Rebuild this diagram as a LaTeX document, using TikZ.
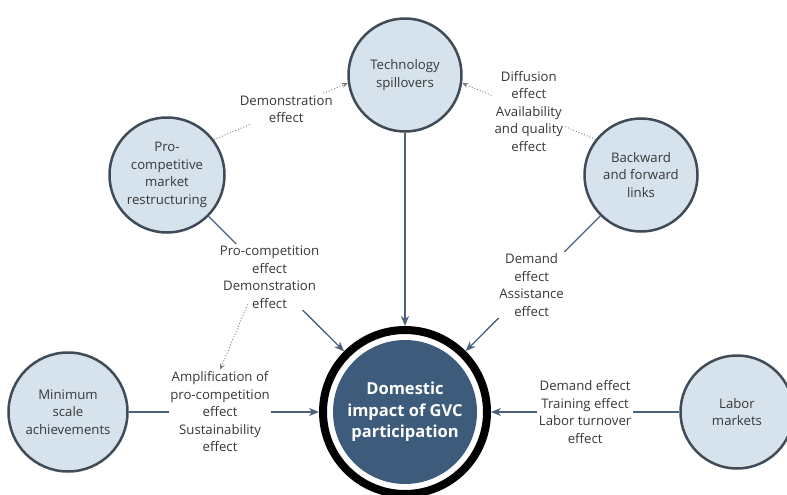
\documentclass[tikz,border=0pt]{standalone}
\usepackage{fontspec}
\setmainfont{Open Sans}
\usetikzlibrary{shapes,arrows,arrows.meta,positioning}
\definecolor{circfill}{HTML}{D6E2EC}
\definecolor{circline}{HTML}{3F4B57}
\definecolor{mainblue}{HTML}{3D5B7B}
\definecolor{arrowcol}{HTML}{4D6279}
\definecolor{dotcol}{HTML}{7A7A7A}
\definecolor{txtcol}{HTML}{383838}

\begin{document}
\begin{tikzpicture}[
    x=1pt, y=-1pt,
    font=\fontsize{13.2}{17.5}\selectfont,
    factor/.style={circle, draw=circline, line width=2.5pt, fill=circfill, align=center, text=txtcol, inner sep=0pt},
    impact/.style={circle, fill=mainblue, text=white, align=center, minimum size=144pt, outer sep=14pt, font=\fontsize{16.5}{21.7}\selectfont\bfseries},
    effect/.style={fill=white, align=center, text=txtcol, inner sep=1.5pt},
    arrow/.style={line width=1.3pt, draw=arrowcol, -{Stealth[length=10pt,width=8pt,inset=3pt]}},
    dotarrow/.style={line width=0.9pt, draw=dotcol, dotted, -{Stealth[length=6pt,width=5pt]}}
]
\useasboundingbox (0,0) rectangle (787,495);

% Central node
\node[impact] (impact) at (405,412) {Domestic\\impact of GVC\\participation};
\draw[line width=8pt] (impact.center) circle[radius=82pt];

% Channels
\node[factor, minimum size=113pt] (tech) at (405,75) {Technology\\spillovers};
\node[factor, minimum size=115pt] (procomp) at (167,175) {Pro-\\competitive\\market\\restructuring};
\node[factor, minimum size=113pt] (links) at (641,175) {Backward\\and forward\\links};
\node[factor, minimum size=119pt] (minscale) at (68,412) {Minimum\\scale\\achievements};
\node[factor, minimum size=113pt] (labor) at (737,412) {Labor\\markets};

% Direct effects
\draw[arrow] (tech) -- (impact);
\draw[arrow] (procomp) -- node[effect, pos=0.45] (pcEffect) {Pro-competition\\effect\\Demonstration\\effect} (impact);
\draw[arrow] (links) -- node[effect, pos=0.51] (linksEffect) {Demand\\effect\\Assistance\\effect} (impact);
\draw[arrow] (minscale) -- node[effect, pos=0.48] (minEffect) {Amplification of\\pro-competition\\effect\\Sustainability\\effect} (impact);
\draw[arrow] (labor) -- node[effect, pos=0.5] (laborEffect) {Demand effect\\Training effect\\Labor turnover\\effect} (impact);

% Spillover paths
\draw[dotarrow] (procomp.37) -- node[effect, pos=0.54] (demoEffect) {Demonstration\\effect} (tech.188);
\draw[dotarrow] (links.142) -- node[effect, pos=0.5] (diffEffect) {Diffusion\\effect\\Availability\\and quality\\effect} (tech.352);
\draw[dotarrow] ([xshift=-22pt,yshift=6pt]pcEffect.south) -- (minEffect.north);

\end{tikzpicture}
\end{document}
